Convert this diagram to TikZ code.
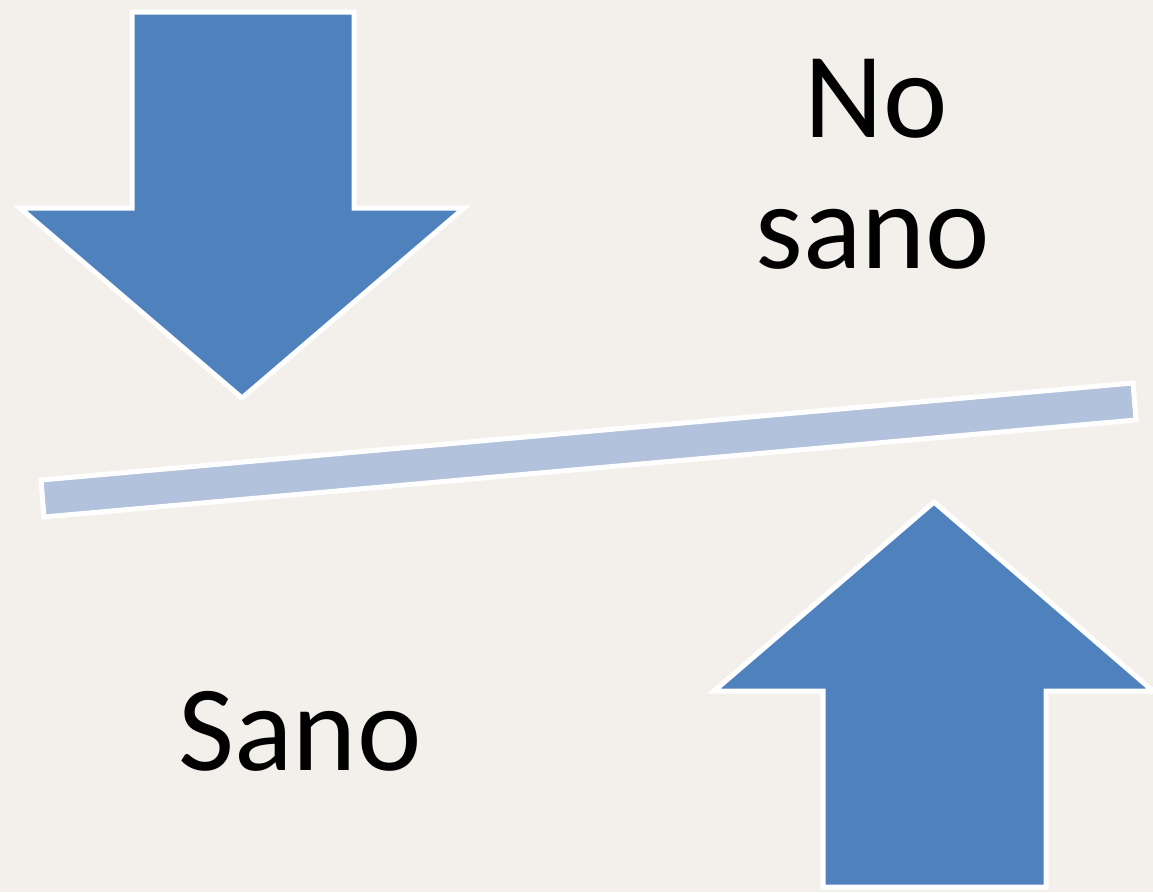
\documentclass[tikz,border=0pt]{standalone}
\usepackage{fontspec}
\setmainfont{Carlito}
\definecolor{arrowblue}{HTML}{4F81BD}
\definecolor{barblue}{HTML}{B2C1DC}
\definecolor{bg}{HTML}{F3EFEA}
\begin{document}
\begin{tikzpicture}[x=1pt,y=-1pt,
  bigarrow/.style={fill=arrowblue,draw=white,line width=5pt,line join=miter},
  barshape/.style={fill=barblue,draw=white,line width=5pt},
  lbl/.style={font=\fontsize{122}{131}\selectfont,text=black,inner sep=0pt}]
\fill[bg] (0,0) rectangle (1153,892);
\useasboundingbox (0,0) rectangle (1153,892);
% down arrow
\draw[bigarrow] (132,12) -- (354,12) -- (354,208) -- (464,208) -- (242,398) -- (20,208) -- (132,208) -- cycle;
% bar
\draw[barshape] (41,480) -- (1133,383) -- (1136,420) -- (44,517) -- cycle;
% up arrow
\draw[bigarrow] (823,887) -- (1046,887) -- (1046,691) -- (1153,691) -- (934,502) -- (714,691) -- (823,691) -- cycle;
\node[lbl,anchor=base] (no) at (876,137) {No};
\node[lbl,anchor=base] (nosano) at (873,268) {sano};
\node[lbl,anchor=base] (sano) at (300,770) {Sano};
\end{tikzpicture}
\end{document}
